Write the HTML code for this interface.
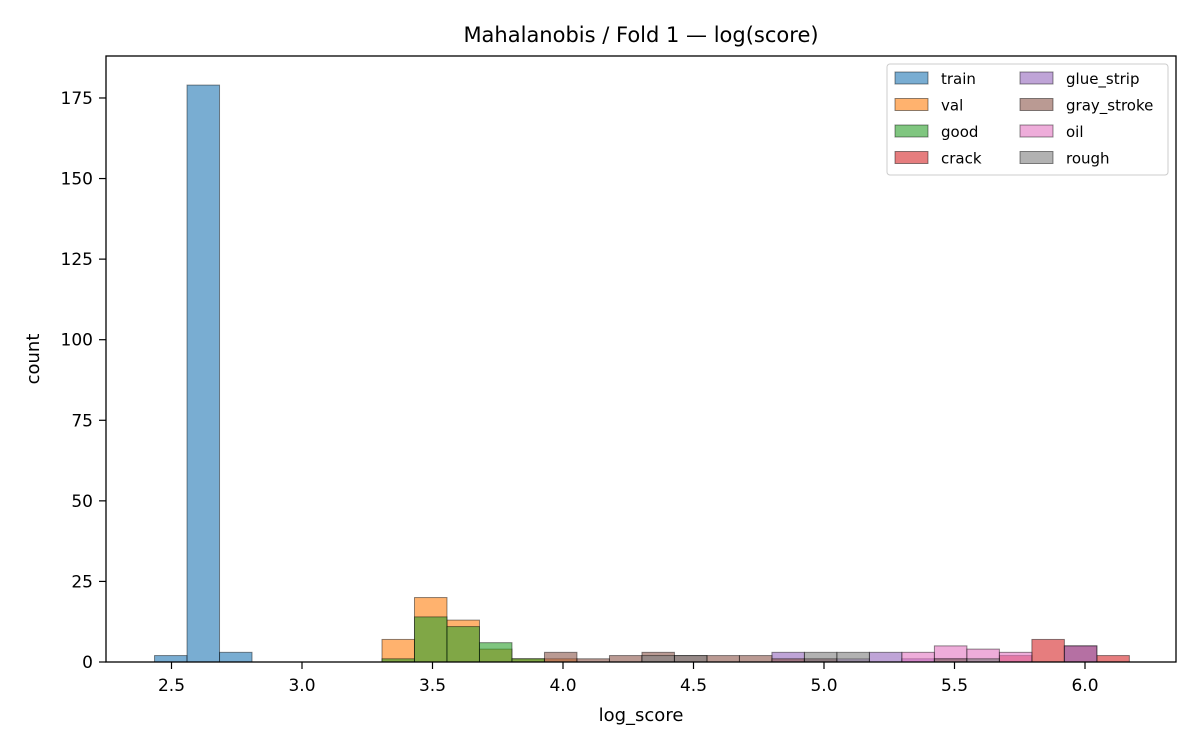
<!DOCTYPE html>
<html><head><meta charset="utf-8"><style>
body{margin:0;background:#fff}
text{font-family:"DejaVu Sans","Liberation Sans",sans-serif}
</style></head><body>
<svg id="c" width="1200" height="750" xmlns="http://www.w3.org/2000/svg">
<rect width="1200" height="750" fill="#fff"/>
<text x="641" y="42" font-size="21" text-anchor="middle">Mahalanobis / Fold 1 — log(score)</text>
<g id="bars"></g>
<rect x="106" y="56" width="1070" height="606" fill="none" stroke="#000" stroke-width="1.3"/>
<g id="axes"></g>
<text x="641" y="721" font-size="18" text-anchor="middle">log_score</text>
<text transform="translate(39,359) rotate(-90)" font-size="18" text-anchor="middle">count</text>
<g id="legend"></g>
</svg>
<script>
const binStart = 2.435;
const binWidth = 0.1245;
const seriesNames = ["train","val","good","crack","glue_strip","gray_stroke","oil","rough"];
const seriesColors = ["#1f77b4","#ff7f0e","#2ca02c","#d62728","#9467bd","#8c564b","#e377c2","#7f7f7f"];
const trainCounts = {0:2,1:179,2:3};
const valCounts = {7:7,8:20,9:13,10:4,11:1,12:1};
const goodCounts = {7:1,8:14,9:11,10:6,11:1};
const crackCounts = {24:1,26:2,27:7,28:5,29:2};
const glueCounts = {19:3,20:1,21:1,22:3,23:1,28:5};
const grayCounts = {12:3,13:1,14:2,15:3,16:2,17:2,18:2,19:1,20:1};
const oilCounts = {23:3,24:5,25:4,26:3};
const roughCounts = {15:2,16:2,20:3,21:3,24:1,25:1};
const xTicks = [2.5,3.0,3.5,4.0,4.5,5.0,5.5,6.0];
const yTicks = [0,25,50,75,100,125,150,175];

const allCounts=[trainCounts,valCounts,goodCounts,crackCounts,glueCounts,grayCounts,oilCounts,roughCounts];
const NS="http://www.w3.org/2000/svg";
const X=v=>302+(v-3)*261;
const Y=v=>662-v*3.223;
const bars=document.getElementById('bars');
allCounts.forEach((cs,si)=>{
  for(const k in cs){
    const b=+k, v=cs[k];
    const x0=X(binStart+b*binWidth), x1=X(binStart+(b+1)*binWidth);
    const r=document.createElementNS(NS,'rect');
    r.setAttribute('x',x0);r.setAttribute('y',Y(v));
    r.setAttribute('width',x1-x0);r.setAttribute('height',Y(0)-Y(v));
    r.setAttribute('fill',seriesColors[si]);r.setAttribute('fill-opacity','0.6');
    r.setAttribute('stroke','#000');r.setAttribute('stroke-opacity','0.45');r.setAttribute('stroke-width','1');
    
    
    bars.appendChild(r);
  }
});
const axes=document.getElementById('axes');
xTicks.forEach(t=>{
  const l=document.createElementNS(NS,'line');
  l.setAttribute('x1',X(t));l.setAttribute('x2',X(t));l.setAttribute('y1',662);l.setAttribute('y2',669);
  l.setAttribute('stroke','#000');l.setAttribute('stroke-width','1.2');
  
  
  axes.appendChild(l);
  const tx=document.createElementNS(NS,'text');
  tx.setAttribute('x',X(t));tx.setAttribute('y',691);tx.setAttribute('font-size','17');tx.setAttribute('text-anchor','middle');
  tx.textContent=t.toFixed(1);
  
  
  axes.appendChild(tx);
});
yTicks.forEach(t=>{
  const l=document.createElementNS(NS,'line');
  l.setAttribute('x1',99);l.setAttribute('x2',106);l.setAttribute('y1',Y(t));l.setAttribute('y2',Y(t));
  l.setAttribute('stroke','#000');l.setAttribute('stroke-width','1.2');
  
  
  axes.appendChild(l);
  const tx=document.createElementNS(NS,'text');
  tx.setAttribute('x',93);tx.setAttribute('y',Y(t)+6);tx.setAttribute('font-size','17');tx.setAttribute('text-anchor','end');
  tx.textContent=t;
  
  
  axes.appendChild(tx);
});
const lg=document.getElementById('legend');
const box=document.createElementNS(NS,'rect');
box.setAttribute('x',887);box.setAttribute('y',64);box.setAttribute('width',281);box.setAttribute('height',111);box.setAttribute('rx',3);
box.setAttribute('fill','#fff');box.setAttribute('fill-opacity','0.8');box.setAttribute('stroke','#ccc');


lg.appendChild(box);
seriesNames.forEach((n,i)=>{
  const col=Math.floor(i/4), row=i%4;
  const x=895+col*125, y=72+row*26.5;
  const s=document.createElementNS(NS,'rect');
  s.setAttribute('x',x);s.setAttribute('y',y);s.setAttribute('width',33);s.setAttribute('height',12);
  s.setAttribute('fill',seriesColors[i]);s.setAttribute('fill-opacity','0.6');s.setAttribute('stroke','#000');s.setAttribute('stroke-opacity','0.45');
  
  
  lg.appendChild(s);
  const t=document.createElementNS(NS,'text');
  t.setAttribute('x',x+46);t.setAttribute('y',y+12);t.setAttribute('font-size','15');
  t.textContent=n;
  
  
  lg.appendChild(t);
});
</script>
</body></html>
